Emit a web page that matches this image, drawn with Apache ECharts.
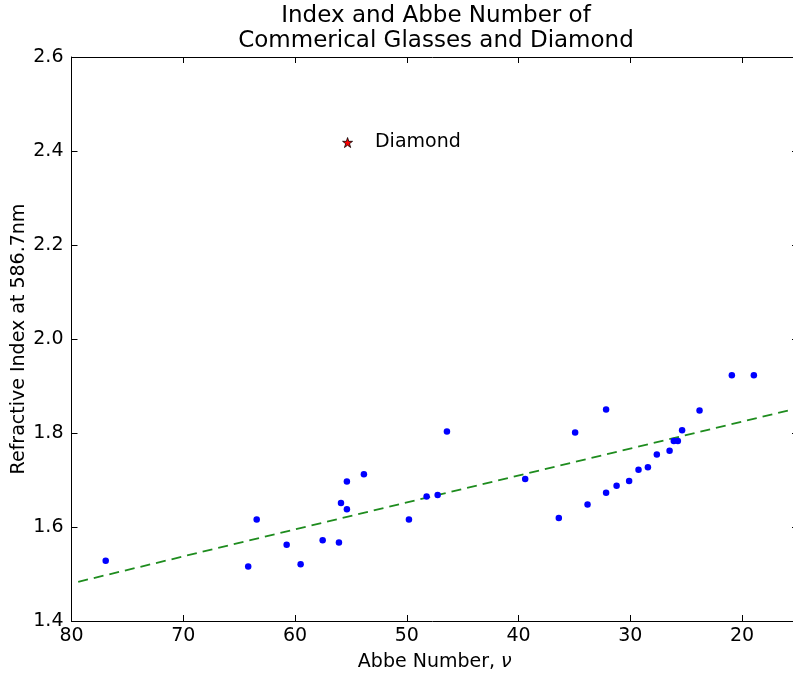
<!DOCTYPE html>
<html>
<head>
<meta charset="utf-8">
<title>Index and Abbe Number of Commerical Glasses and Diamond</title>
<script src="https://cdn.jsdelivr.net/npm/echarts@6/dist/echarts.min.js"></script>
<style>
  html, body { margin: 0; padding: 0; background: #ffffff; }
  #chart { width: 793px; height: 675px; }
</style>
</head>
<body>
<div id="chart"></div>
<script>
// Commercial optical glasses: Abbe number and refractive index at 586.7 nm
const glassAbbe = [
  76.94, 63.43, 60.75, 64.19, 59.50, 53.84, 55.36, 55.89, 55.36, 57.53, 56.07,
  46.41, 48.23, 47.24, 49.81, 34.94, 39.41, 33.83, 36.40, 32.17, 20.92, 18.95,
  23.81, 25.37, 26.11, 25.75, 26.49, 27.63, 28.43, 29.27, 30.11, 31.23, 32.17
];
const glassIndex = [
  1.528, 1.616, 1.562, 1.516, 1.521, 1.712, 1.697, 1.651, 1.638, 1.572, 1.567,
  1.803, 1.665, 1.668, 1.616, 1.801, 1.702, 1.648, 1.619, 1.850, 1.923, 1.923,
  1.848, 1.806, 1.783, 1.783, 1.762, 1.754, 1.727, 1.722, 1.698, 1.688, 1.673
];

// Diamond
const diamondAbbe = [55.3];
const diamondIndex = [2.418];

// Linear trend through the glasses (end points)
const trendAbbe = [79.4, 15];
const trendIndex = [1.4835, 1.8528];

// Axis ranges and ticks
const abbeRange = [15, 80];
const abbeTicks = [80, 70, 60, 50, 40, 30, 20];
const indexRange = [1.4, 2.6];
const indexStep = 0.2;

const FONT = 'DejaVu Sans';
const TICK_FONT = 19;
const LABEL_FONT = 19;

const chart = echarts.init(document.getElementById('chart'), null, { renderer: 'canvas' });

const zip = (xs, ys) => xs.map((x, i) => [x, ys[i]]);

const baseX = {
  type: 'value',
  min: abbeRange[0],
  max: abbeRange[1],
  inverse: true,
  splitLine: { show: false },
  axisLine: { show: true, onZero: false, lineStyle: { color: '#000', width: 1 } }
};
const baseY = {
  type: 'value',
  min: indexRange[0],
  max: indexRange[1],
  interval: indexStep,
  splitLine: { show: false },
  axisLine: { show: true, onZero: false, lineStyle: { color: '#000', width: 1 } }
};

chart.setOption({
  animation: false,
  backgroundColor: '#ffffff',
  textStyle: { fontFamily: FONT },
  grid: {
    left: 71.5,
    top: 57,
    width: 726.5,
    height: 564,
    containLabel: false,
    outerBoundsMode: 'none'
  },
  graphic: [
    {
      type: 'text',
      x: 436,
      y: 3.5,
      style: {
        text: 'Index and Abbe Number of\nCommerical Glasses and Diamond',
        font: '23px "DejaVu Sans"',
        fill: '#000',
        textAlign: 'center',
        textVerticalAlign: 'top',
        lineHeight: 25
      }
    }
  ],
  xAxis: [
    Object.assign({}, baseX, {
      position: 'bottom',
      name: 'Abbe Number, {i|ν}',
      nameLocation: 'middle',
      nameGap: 32,
      nameMoveOverlap: false,
      nameTextStyle: {
        fontFamily: FONT, fontSize: LABEL_FONT, color: '#000',
        rich: { i: { fontFamily: FONT, fontStyle: 'italic', fontSize: LABEL_FONT, color: '#000' } }
      },
      axisTick: { show: true, inside: true, length: 6, customValues: abbeTicks, lineStyle: { color: '#000' } },
      axisLabel: { show: true, customValues: abbeTicks, margin: 6, fontFamily: FONT, fontSize: TICK_FONT, color: '#000' }
    }),
    Object.assign({}, baseX, {
      position: 'top',
      axisTick: { show: true, inside: true, length: 6, customValues: abbeTicks, lineStyle: { color: '#000' } },
      axisLabel: { show: false }
    })
  ],
  yAxis: [
    Object.assign({}, baseY, {
      position: 'left',
      name: 'Refractive Index at 586.7nm',
      nameLocation: 'middle',
      nameGap: 43,
      nameRotate: 90,
      nameMoveOverlap: false,
      nameTextStyle: { fontFamily: FONT, fontSize: LABEL_FONT, color: '#000' },
      axisTick: { show: true, inside: true, length: 6, lineStyle: { color: '#000' } },
      axisLabel: {
        show: true, margin: 8, fontFamily: FONT, fontSize: TICK_FONT, color: '#000',
        formatter: v => v.toFixed(1)
      }
    }),
    Object.assign({}, baseY, {
      position: 'right',
      axisTick: { show: true, inside: true, length: 6, lineStyle: { color: '#000' } },
      axisLabel: { show: false }
    })
  ],
  series: [
    {
      type: 'line',
      xAxisIndex: 0,
      yAxisIndex: 0,
      data: zip(trendAbbe, trendIndex),
      showSymbol: false,
      symbol: 'none',
      clip: true,
      lineStyle: { color: '#1e8c1e', width: 1.8, type: [10, 6] },
      z: 2
    },
    {
      type: 'scatter',
      xAxisIndex: 0,
      yAxisIndex: 0,
      data: zip(glassAbbe, glassIndex),
      symbol: 'circle',
      symbolSize: 6.5,
      itemStyle: { color: '#0000ff', borderWidth: 0, opacity: 1 },
      z: 3
    },
    {
      type: 'scatter',
      xAxisIndex: 0,
      yAxisIndex: 0,
      data: zip(diamondAbbe, diamondIndex),
      symbol: 'path://M50,0 L61.8,35.4 L100,35.4 L69.1,57.3 L80.9,93.5 L50,71.4 L19.1,93.5 L30.9,57.3 L0,35.4 L38.2,35.4 Z',
      symbolSize: 10,
      itemStyle: { color: '#ff0000', borderColor: '#000', borderWidth: 0.8, opacity: 1 },
      label: {
        show: true,
        position: 'right',
        distance: 22,
        formatter: 'Diamond',
        fontFamily: FONT,
        fontSize: LABEL_FONT,
        color: '#000'
      },
      z: 4
    }
  ]
});
</script>
</body>
</html>
